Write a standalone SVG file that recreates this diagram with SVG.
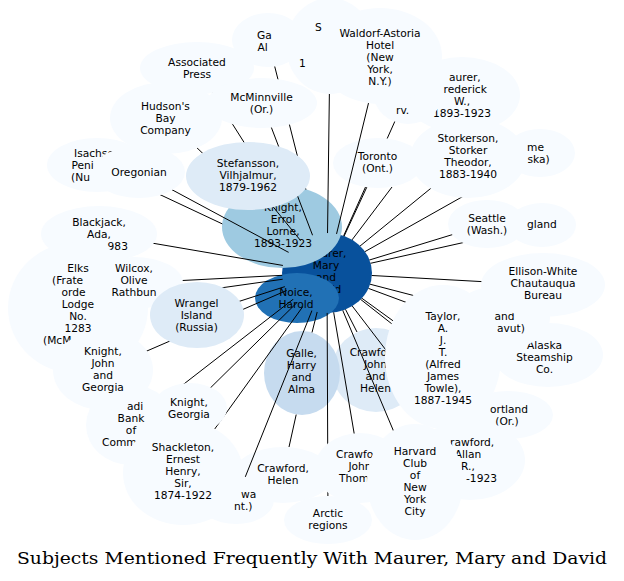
<svg xmlns="http://www.w3.org/2000/svg" width="624" height="581" viewBox="0 0 624 581">
<style>
text{font-family:"DejaVu Sans",sans-serif;font-size:10.67px;fill:#000;text-anchor:middle}
text.s{text-anchor:start}
.lt{fill:#f7fbff}
.l2{fill:#deebf7}
#edges line{stroke:#000;stroke-width:1}
text.title{font-family:"DejaVu Serif",serif;font-size:17px}
</style>
<defs>
<mask id="mc" maskUnits="userSpaceOnUse" x="0" y="0" width="624" height="581">
<rect width="624" height="581" fill="#fff"/>
<ellipse cx="327" cy="273" rx="45" ry="40" fill="#000"/>
</mask>
</defs>
<rect width="624" height="581" fill="#fff"/>

<g id="n-maurer"><ellipse cx="327" cy="273" rx="45" ry="40" fill="#08519c"/>
<text x="326" y="257">Maurer,</text><text x="326" y="269">Mary</text><text x="326" y="281">and</text><text x="326" y="293">David</text></g>
<g id="n-knight-errol"><ellipse cx="282" cy="227" rx="60" ry="41" fill="#9ecae1"/>
<text x="283" y="211">Knight,</text><text x="283" y="223">Errol</text><text x="283" y="235">Lorne,</text><text x="283" y="247">1893-1923</text></g>
<g id="n-noice"><ellipse cx="297" cy="298" rx="42" ry="25" fill="#2171b5"/>
<text x="296" y="296">Noice,</text><text x="296" y="308">Harold</text></g>
<g id="n-crawford-jh"><ellipse cx="376" cy="370" rx="44" ry="42" class="l2"/>
<text x="375.5" y="355.5">Crawford,</text><text x="375.5" y="367.5">John</text><text x="375.5" y="379.5">and</text><text x="375.5" y="391.5">Helen</text></g>
<g id="n-galle"><ellipse cx="302" cy="373" rx="38" ry="42" fill="#c6dbef"/>
<text x="301.5" y="357">Galle,</text><text x="301.5" y="369">Harry</text><text x="301.5" y="381">and</text><text x="301.5" y="393">Alma</text></g>
<g id="n-toronto"><ellipse cx="378" cy="163" rx="45" ry="25" class="lt"/>
<text x="377.5" y="160">Toronto</text><text x="377.5" y="172">(Ont.)</text></g>
<g id="n-crawford-helen"><ellipse cx="283" cy="475" rx="50" ry="28" class="lt"/>
<text x="283" y="472">Crawford,</text><text x="283" y="484">Helen</text></g>

<g id="edges" mask="url(#mc)">
<line x1="272" y1="186.5" x2="197" y2="68"/>
<line x1="246" y1="195" x2="166" y2="118"/>
<line x1="327" y1="273" x2="262" y2="103"/>
<line x1="305.9" y1="189.6" x2="268" y2="40"/>
<line x1="327" y1="273" x2="330" y2="46"/>
<line x1="327" y1="273" x2="380" y2="56"/>
<line x1="327" y1="273" x2="365.5" y2="187"/>
<line x1="387.2" y1="138.5" x2="408" y2="92"/>
<line x1="327" y1="273" x2="392" y2="187"/>
<line x1="327" y1="273" x2="366.8" y2="187.2"/>
<line x1="327" y1="273" x2="468" y2="158"/>
<line x1="327" y1="273" x2="540" y2="153"/>
<line x1="327" y1="273" x2="487" y2="224"/>
<line x1="327" y1="273" x2="542" y2="225"/>
<line x1="327" y1="273" x2="543" y2="285"/>
<line x1="327" y1="273" x2="500" y2="318"/>
<line x1="327" y1="273" x2="548" y2="355"/>
<line x1="327" y1="273" x2="443" y2="357"/>
<line x1="327" y1="273" x2="508" y2="415"/>
<line x1="327" y1="273" x2="470" y2="460"/>
<line x1="327" y1="273" x2="415" y2="482"/>
<line x1="327" y1="273" x2="357" y2="332"/>
<line x1="327" y1="273" x2="360" y2="468"/>
<line x1="327" y1="273" x2="328" y2="520"/>
<line x1="327" y1="273" x2="312" y2="332.5"/>
<line x1="296.2" y1="414.6" x2="289" y2="447"/>
<line x1="327" y1="273" x2="236" y2="500"/>
<line x1="327" y1="273" x2="183" y2="473"/>
<line x1="327" y1="273" x2="190" y2="408"/>
<line x1="327" y1="273" x2="131" y2="425"/>
<line x1="327" y1="273" x2="103" y2="370"/>
<line x1="327" y1="273" x2="197" y2="315"/>
<line x1="327" y1="273" x2="78" y2="308"/>
<line x1="327" y1="273" x2="134" y2="283"/>
<line x1="327" y1="273" x2="99" y2="234"/>
<line x1="222.3" y1="223.9" x2="97" y2="165"/>
<line x1="327" y1="273" x2="139" y2="172"/>
<line x1="327" y1="273" x2="248" y2="176"/>
</g>

<g id="n-associated-press"><ellipse cx="197" cy="68" rx="57" ry="26" class="lt"/>
<text x="197" y="66">Associated</text><text x="197" y="78">Press</text></g>
<g id="n-hudsons-bay"><ellipse cx="166" cy="118" rx="56" ry="36" class="lt"/>
<text x="165.5" y="110">Hudson's</text><text x="165.5" y="122">Bay</text><text x="165.5" y="134">Company</text></g>
<g id="n-mcminnville"><ellipse cx="262" cy="103" rx="55" ry="25" class="lt"/>
<text x="261.5" y="101">McMinnville</text><text x="261.5" y="113">(Or.)</text></g>
<g id="n-nome"><ellipse cx="540" cy="153" rx="35" ry="24" class="lt"/>
<text class="s" x="527" y="151">me</text><text class="s" x="527.5" y="163">ska)</text></g>
<g id="n-storkerson"><ellipse cx="468" cy="158" rx="58" ry="40" class="lt"/>
<text x="468" y="142">Storkerson,</text><text x="468" y="154">Storker</text><text x="468" y="166">Theodor,</text><text x="468" y="178">1883-1940</text></g>
<g id="n-maurer-frederick"><ellipse cx="462" cy="95" rx="58" ry="38" class="lt"/>
<text class="s" x="449" y="81">aurer,</text><text class="s" x="443.5" y="93">rederick</text><text x="462" y="105">W.,</text><text x="462" y="117">1893-1923</text></g>
<g id="n-rv"><ellipse cx="408" cy="92" rx="35" ry="32" class="lt"/>
<text class="s" x="396" y="113.5">rv.</text></g>
<g id="n-ga"><ellipse cx="268" cy="40" rx="36" ry="27" class="lt"/>
<text class="s" x="257" y="38.5">Ga</text><text class="s" x="257.5" y="50.5">Al</text></g>
<g id="n-s1"><ellipse cx="330" cy="46" rx="44" ry="48" class="lt"/>
<text class="s" x="315" y="31">S</text><text class="s" x="299" y="67">1</text></g>
<g id="n-waldorf"><ellipse cx="380" cy="56" rx="62" ry="48" class="lt"/>
<text x="380" y="37">Waldorf-Astoria</text><text x="380" y="49">Hotel</text><text x="380" y="61">(New</text><text x="380" y="73">York,</text><text x="380" y="85">N.Y.)</text></g>
<g id="n-england"><ellipse cx="542" cy="225" rx="34" ry="22" class="lt"/>
<text class="s" x="527" y="228">gland</text></g>
<g id="n-seattle"><ellipse cx="487" cy="224" rx="39" ry="24" class="lt"/>
<text x="487" y="222">Seattle</text><text x="487" y="234">(Wash.)</text></g>
<g id="n-alaska-steamship"><ellipse cx="548" cy="355" rx="55" ry="32" class="lt"/>
<text x="544.5" y="349">Alaska</text><text x="544.5" y="361">Steamship</text><text x="544.5" y="373">Co.</text></g>
<g id="n-nunavut"><ellipse cx="500" cy="318" rx="50" ry="32" class="lt"/>
<text class="s" x="494.5" y="320">and</text><text class="s" x="497" y="332">avut)</text></g>
<g id="n-ellison-white"><ellipse cx="543" cy="285" rx="62" ry="32" class="lt"/>
<text x="543" y="275">Ellison-White</text><text x="543" y="287">Chautauqua</text><text x="543" y="299">Bureau</text></g>
<g id="n-portland"><ellipse cx="508" cy="415" rx="45" ry="24" class="lt"/>
<text class="s" x="490" y="413">ortland</text><text x="507" y="425">(Or.)</text></g>
<g id="n-taylor"><ellipse cx="443" cy="357" rx="58" ry="72" class="lt"/>
<text x="443" y="320">Taylor,</text><text x="443" y="332">A.</text><text x="443" y="344">J.</text><text x="443" y="356">T.</text><text x="443" y="368">(Alfred</text><text x="443" y="380">James</text><text x="443" y="392">Towle),</text><text x="443" y="404">1887-1945</text></g>
<g id="n-crawford-allan"><ellipse cx="470" cy="460" rx="55" ry="40" class="lt"/>
<text class="s" x="450" y="446">rawford,</text><text x="468" y="458">Allan</text><text x="468" y="470">R.,</text><text class="s" x="466" y="482">-1923</text></g>
<g id="n-crawford-john-thom"><ellipse cx="360" cy="468" rx="45" ry="35" class="lt"/>
<text class="s" x="336" y="458">Crawfo</text><text x="360" y="470">John</text><text class="s" x="339" y="482">Thom</text></g>
<g id="n-harvard"><ellipse cx="415" cy="482" rx="48" ry="58" class="lt"/>
<text x="415" y="455">Harvard</text><text x="415" y="467">Club</text><text x="415" y="479">of</text><text x="415" y="491">New</text><text x="415" y="503">York</text><text x="415" y="515">City</text></g>
<g id="n-arctic"><ellipse cx="328" cy="520" rx="44" ry="24" class="lt"/>
<text x="328" y="517">Arctic</text><text x="328" y="529">regions</text></g>
<g id="n-ottawa"><ellipse cx="236" cy="500" rx="38" ry="24" class="lt"/>
<text class="s" x="241" y="497.5">wa</text><text class="s" x="234" y="509.5">nt.)</text></g>
<g id="n-isachsen"><ellipse cx="97" cy="165" rx="50" ry="27" class="lt"/>
<text class="s" x="74" y="157">Isachse</text><text class="s" x="71.5" y="169">Peni</text><text class="s" x="71" y="181">(Nu</text></g>
<g id="n-oregonian"><ellipse cx="139" cy="172" rx="46" ry="26" class="lt"/>
<text x="139" y="176">Oregonian</text></g>
<g id="n-blackjack"><ellipse cx="99" cy="234" rx="58" ry="28" class="lt"/>
<text x="99" y="226">Blackjack,</text><text x="99" y="238">Ada,</text><text class="s" x="107.6" y="250">983</text></g>
<g id="n-elks"><ellipse cx="78" cy="308" rx="70" ry="66" class="lt"/>
<text x="78" y="272">Elks</text><text class="s" x="52" y="284">(Frate</text><text class="s" x="61.5" y="296">orde</text><text x="78" y="308">Lodge</text><text x="78" y="320">No.</text><text x="78" y="332">1283</text><text class="s" x="43" y="344">(McM</text></g>
<g id="n-wilcox"><ellipse cx="134" cy="283" rx="49" ry="26" class="lt"/>
<text x="134" y="271.5">Wilcox,</text><text x="134" y="283.5">Olive</text><text x="134" y="295.5">Rathbun</text></g>
<g id="n-canadian-bank"><ellipse cx="131" cy="425" rx="45" ry="40" class="lt"/>
<text class="s" x="127" y="410">adi</text><text x="131" y="422">Bank</text><text x="131" y="434">of</text><text class="s" x="102" y="446">Comm</text></g>
<g id="n-knight-jg"><ellipse cx="103" cy="370" rx="50" ry="40" class="lt"/>
<text x="103" y="355">Knight,</text><text x="103" y="367">John</text><text x="103" y="379">and</text><text x="103" y="391">Georgia</text></g>
<g id="n-knight-georgia"><ellipse cx="190" cy="408" rx="37" ry="25" class="lt"/>
<text x="189" y="405.5">Knight,</text><text x="189" y="417.5">Georgia</text></g>
<g id="n-shackleton"><ellipse cx="183" cy="473" rx="60" ry="52" class="lt"/>
<text x="183" y="451">Shackleton,</text><text x="183" y="463">Ernest</text><text x="183" y="475">Henry,</text><text x="183" y="487">Sir,</text><text x="183" y="499">1874-1922</text></g>
<g id="n-stefansson"><ellipse cx="248" cy="176" rx="62" ry="34" class="l2"/>
<text x="248" y="167">Stefansson,</text><text x="248" y="179">Vilhjalmur,</text><text x="248" y="191">1879-1962</text></g>
<g id="n-wrangel"><ellipse cx="197" cy="315" rx="47" ry="33" class="l2"/>
<text x="196.5" y="306.5">Wrangel</text><text x="196.5" y="318.5">Island</text><text x="196.5" y="330.5">(Russia)</text></g>

<text class="title" x="312" y="564" textLength="590" lengthAdjust="spacingAndGlyphs">Subjects Mentioned Frequently With Maurer, Mary and David</text>
</svg>
